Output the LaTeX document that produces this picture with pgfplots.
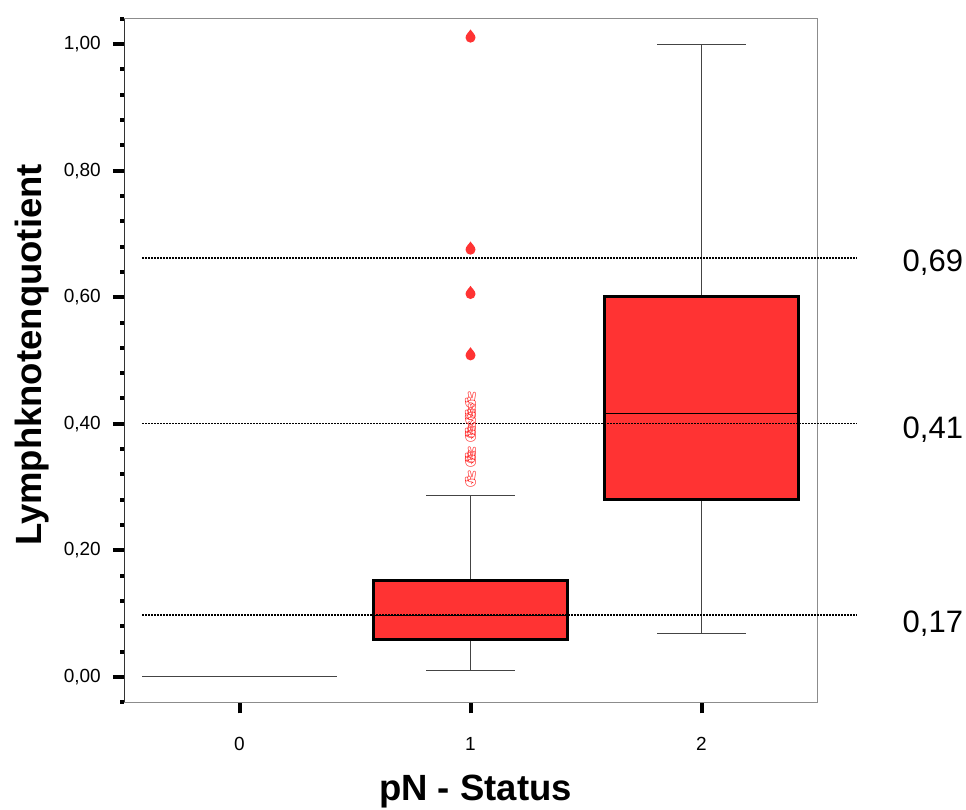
\documentclass[border=0pt]{standalone}
\usepackage{fontspec}
\setmainfont{Liberation Sans}
\newfontfamily\symfont{Noto Emoji}
\usepackage{pgfplots}
\pgfplotsset{compat=1.18}

\definecolor{boxred}{HTML}{FF3333}
\definecolor{framegray}{HTML}{8C8C8C}
\definecolor{whiskergray}{HTML}{444444}
\definecolor{handred}{HTML}{FF2A2A}

% teardrop marker for extreme values
\pgfdeclareplotmark{drop}{%
  \pgfpathmoveto{\pgfqpoint{0pt}{1.65\pgfplotmarksize}}%
  \pgfpathcurveto{\pgfqpoint{0.2\pgfplotmarksize}{1.25\pgfplotmarksize}}%
                 {\pgfqpoint{\pgfplotmarksize}{0.65\pgfplotmarksize}}%
                 {\pgfqpoint{\pgfplotmarksize}{0pt}}%
  \pgfpatharc{0}{-180}{\pgfplotmarksize}%
  \pgfpathcurveto{\pgfqpoint{-\pgfplotmarksize}{0.65\pgfplotmarksize}}%
                 {\pgfqpoint{-0.2\pgfplotmarksize}{1.25\pgfplotmarksize}}%
                 {\pgfqpoint{0pt}{1.65\pgfplotmarksize}}%
  \pgfpathclose
  \pgfusepathqfill
}

\pgfplotsset{
  whisker/.style={whiskergray, line width=1pt, no marks},
  box/.style={fill=boxred, draw=black, line width=3pt, line join=miter, no marks},
  median/.style={black, line width=1pt, no marks},
  refline/.style={black, line width=1.3pt, dash pattern=on 1.3pt off 1.7pt, no marks},
}
\tikzset{
  ytl/.style={font=\fontsize{19}{23}\selectfont, inner sep=0pt, anchor=east, xshift=-23pt},
  xtl/.style={font=\fontsize{19}{23}\selectfont, inner sep=0pt, anchor=north, yshift=-35pt},
}

\begin{document}
\begin{tikzpicture}
\path[use as bounding box] (0pt,0pt) rectangle (966pt,809pt);
\begin{axis}[
  at={(124pt,106.7pt)}, anchor=south west,
  scale only axis, width=693pt, height=683.6pt,
  xmin=-0.5, xmax=2.5, ymin=-0.04, ymax=1.04,
  clip=false,
  axis line style={framegray, line width=1pt},
  xtick={0,1,2},
  ytick={0,0.2,0.4,0.6,0.8,1.0},
  minor ytick={-0.04,0.04,0.08,0.12,0.16,0.24,0.28,0.32,0.36,0.44,0.48,0.52,0.56,0.64,0.68,0.72,0.76,0.84,0.88,0.92,0.96,1.04},
  xticklabels={}, yticklabels={},
  tick align=outside,
  xtick pos=bottom, ytick pos=left,
  major tick length=11pt, minor tick length=4pt,
  every major tick/.append style={black, line width=4pt},
  every minor tick/.append style={black, line width=4pt},
]
% dark left axis line
\draw[black!80, line width=1pt] (rel axis cs:0,0) -- (rel axis cs:0,1);

% tick numbers
\node[ytl] at (axis cs:-0.5,0.0) {0,00};
\node[ytl] at (axis cs:-0.5,0.2) {0,20};
\node[ytl] at (axis cs:-0.5,0.4) {0,40};
\node[ytl] at (axis cs:-0.5,0.6) {0,60};
\node[ytl] at (axis cs:-0.5,0.8) {0,80};
\node[ytl] at (axis cs:-0.5,1.0) {1,00};
\node[xtl] at (axis cs:0,-0.04) {0};
\node[xtl] at (axis cs:1,-0.04) {1};
\node[xtl] at (axis cs:2,-0.04) {2};

% pN = 0: every value is 0
\addplot[whisker] coordinates {(-0.422,0) (0.422,0)};

% pN = 1: whiskers 0.011 / 0.286, quartiles 0.060 / 0.153, median 0.0975
\addplot[whisker] coordinates {(1,0.011) (1,0.060)};
\addplot[whisker] coordinates {(0.8075,0.011) (1.1925,0.011)};
\addplot[whisker] coordinates {(1,0.153) (1,0.286)};
\addplot[whisker] coordinates {(0.8075,0.286) (1.1925,0.286)};
\addplot[box] coordinates {(0.578,0.060) (1.422,0.060) (1.422,0.153) (0.578,0.153)} -- cycle;
\addplot[median] coordinates {(0.578,0.0975) (1.422,0.0975)};

% pN = 2: whiskers 0.068 / 1.000, quartiles 0.281 / 0.601, median 0.4166
\addplot[whisker] coordinates {(2,0.068) (2,0.281)};
\addplot[whisker] coordinates {(1.8075,0.068) (2.1925,0.068)};
\addplot[whisker] coordinates {(2,0.601) (2,1.000)};
\addplot[whisker] coordinates {(1.8075,1.000) (2.1925,1.000)};
\addplot[box] coordinates {(1.578,0.281) (2.422,0.281) (2.422,0.601) (1.578,0.601)} -- cycle;
\addplot[median] coordinates {(1.578,0.4166) (2.422,0.4166)};

% dotted reference lines
\addplot[refline] coordinates {(-0.42,0.098) (2.671,0.098)};
\addplot[refline] coordinates {(-0.42,0.400) (2.671,0.400)};
\addplot[refline] coordinates {(-0.42,0.662) (2.671,0.662)};

% outliers of pN = 1
\addplot[only marks, mark=text, text mark={\symfont ✌}, text mark as node=true,
  text mark style={font=\fontsize{16}{16}\selectfont, text=handred, inner sep=0pt}]
  coordinates {(1,0.438) (1,0.418) (1,0.410) (1,0.390) (1,0.384) (1,0.350) (1,0.345) (1,0.313)};
% extreme values of pN = 1
\addplot[only marks, mark=drop, mark size=5pt, color=boxred]
  coordinates {(1,1.010) (1,0.675) (1,0.605) (1,0.508)};

% annotations at the right of the reference lines
\node[anchor=base west, font=\fontsize{31}{31}\selectfont, inner sep=0pt] at (axis cs:2.870,0.640) {0,69};
\node[anchor=base west, font=\fontsize{31}{31}\selectfont, inner sep=0pt] at (axis cs:2.870,0.376) {0,41};
\node[anchor=base west, font=\fontsize{31}{31}\selectfont, inner sep=0pt] at (axis cs:2.870,0.0695) {0,17};
\end{axis}
\node[rotate=90, font=\fontsize{36.5}{36.5}\selectfont\bfseries, inner sep=0pt] at (32pt,454pt) {Lymphknotenquotient};
\node[font=\fontsize{36.5}{36.5}\selectfont\bfseries, inner sep=0pt] at (475.5pt,17pt) {pN - Status};
\end{tikzpicture}
\end{document}
